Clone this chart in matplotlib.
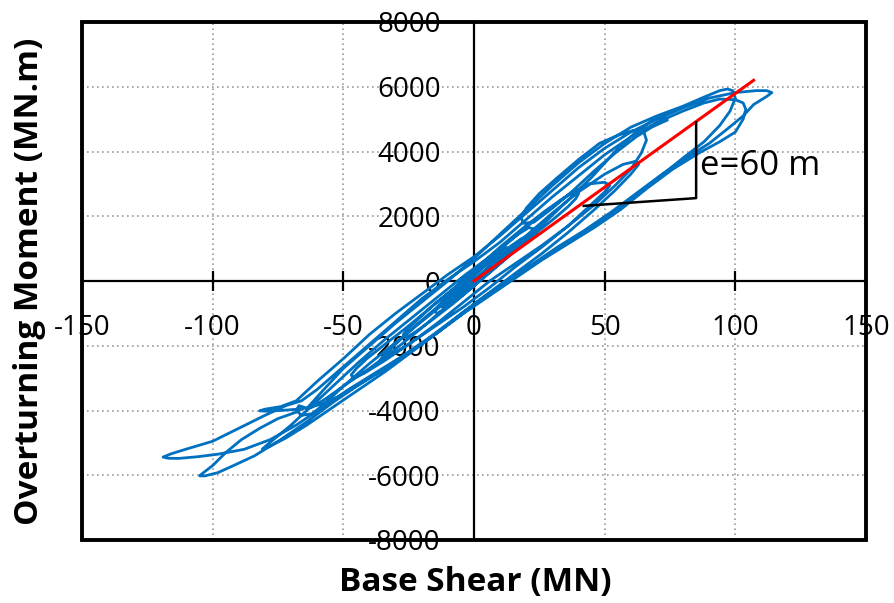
import matplotlib
matplotlib.use('Agg')
import matplotlib.pyplot as plt
from matplotlib.patches import Rectangle

plt.rcParams['font.family'] = ['Open Sans', 'DejaVu Sans']
plt.rcParams['axes.unicode_minus'] = False

# hysteresis record, base shear (MN) vs overturning moment (MN.m)
base_shear = [
    0, 4, 8, 11, 13, 12, 9, 5, 0, -5, -10, -14, -15, -14, -11,
    -6, 0, 6, 12, 18, 22, 23, 21, 17, 11, 5, -1, -8, -15, -21, -25, -27, -26, -22,
    -16, -8, 0, 8, 16, 24, 31, 36, 39, 40, 38, 34, 27, 19, 10, 1, -8, -17, -26, -34, -41, -45, -47, -46, -42,
    -34, -24, -14, -4, 6, 16, 26, 36, 46, 54, 60, 64, 66, 65, 61,
    55, 48, 40, 32, 25, 20, 18, 19, 23,
    30, 38, 46, 54, 62, 68, 72, 74, 73, 69,
    62, 54, 45, 36, 27, 18, 9, 0, -10, -20, -30, -40, -50, -57, -62, -64, -63,
    -58, -50, -40, -30, -20, -10, 0, 10, 20, 30, 40, 50, 60, 70, 80, 88, 94, 97, 99,
    100, 98, 94, 88, 80, 70, 60, 50, 40, 30, 20, 10, 0, -10, -20, -30, -40, -50, -58, -66, -74, -80, -82, -80,
    -74, -68, -60, -50, -40, -30, -20, -10, 0, 10, 20, 30, 40, 50, 60, 70, 80, 90, 100, 108, 112, 114, 112,
    107, 103, 97, 90, 82, 72, 62, 52, 42, 32, 22, 12, 2, -8, -18, -28, -38, -48, -58, -68, -78, -88, -98, -106, -113, -117, -119, -116,
    -110, -100, -90, -80, -72, -66, -60, -50, -40, -30, -20, -10, 0, 10, 20, 30, 40, 50, 60, 70, 80, 88, 94, 100, 103, 104,
    103, 100, 94, 86, 76, 66, 56, 46, 36, 26, 16, 6, -4, -14, -24, -34, -44, -54, -64, -74, -84, -92, -98, -103, -105, -104,
    -100, -95, -89, -82, -75, -68, -65, -67, -68, -66, -62, -58, -50, -40, -30, -20, -10, 0, 10, 20, 30, 40, 50, 57, 62, 63,
    60, 54, 46, 36, 26, 16, 6, -4, -14, -24, -34, -44, -54, -64, -72, -78, -81, -80,
    -76, -70, -62, -54, -44, -34, -24, -14, -4, 6, 16, 26, 36, 44, 50, 52, 50,
    44, 36, 26, 16, 6, -4, -14, -24, -32, -36, -35,
    -30, -22, -14, -6, 2, 10, 18, 23, 24, 22,
    16, 8, 0, -6, -11, -12, -10, -5, 0,
]
moment = [
    0, 300, 620, 850, 1000, 1050, 900, 600, 250, -100, -450, -800, -950, -1000, -850,
    -550, -150, 300, 750, 1150, 1450, 1600, 1650, 1450, 1050, 650, 250, -250, -700, -1150, -1450, -1650, -1750, -1550,
    -1200, -700, -150, 400, 950, 1500, 1950, 2300, 2550, 2700, 2750, 2550, 2150, 1650, 1050, 400, -250, -850, -1450, -1950, -2400, -2700, -2900, -3000, -2850,
    -2450, -1900, -1300, -650, 0, 550, 1100, 1700, 2350, 2950, 3450, 3950, 4350, 4600, 4650,
    4500, 4250, 3750, 3200, 2700, 2250, 1950, 1780, 1820,
    2250, 2800, 3400, 3950, 4450, 4750, 4900, 4970, 5050, 5000,
    4600, 4000, 3200, 2500, 1800, 1150, 500, -100, -750, -1450, -2100, -2700, -3250, -3650, -3900, -3950, -3850,
    -3400, -2700, -2000, -1300, -650, 0, 700, 1450, 2200, 2950, 3650, 4250, 4750, 5100, 5400, 5680, 5880, 5930, 5880,
    5650, 5250, 4800, 4300, 3800, 3150, 2500, 1900, 1400, 900, 350, -200, -750, -1350, -1950, -2500, -3000, -3500, -3800, -3950, -4000, -4020, -4010, -3960,
    -3880, -3700, -3100, -2400, -1650, -1000, -400, 200, 750, 1400, 2100, 2800, 3500, 4100, 4600, 5000, 5350, 5650, 5820, 5880, 5880, 5820, 5700,
    5450, 5100, 4700, 4250, 3850, 3300, 2700, 2100, 1550, 1050, 500, -50, -600, -1200, -1800, -2350, -2850, -3350, -3900, -4450, -4900, -5200, -5350, -5430, -5480, -5475, -5440, -5340,
    -5190, -4950, -4550, -4150, -3850, -3700, -3350, -2650, -1950, -1250, -550, 50, 600, 1200, 1900, 2600, 3250, 3900, 4450, 4900, 5250, 5500, 5620, 5600, 5500, 5300,
    5000, 4600, 4300, 3950, 3450, 2850, 2200, 1650, 1150, 650, 100, -450, -1000, -1600, -2150, -2700, -3200, -3750, -4350, -4900, -5400, -5700, -5920, -6020, -6020, -5950,
    -5700, -5300, -4900, -4550, -4250, -4050, -3900, -3850, -4000, -4150, -4100, -3850, -3250, -2550, -1900, -1250, -600, 50, 700, 1400, 2100, 2750, 3300, 3600, 3700, 3600,
    3300, 2800, 2200, 1500, 850, 250, -350, -950, -1600, -2200, -2800, -3350, -3900, -4450, -4850, -5100, -5200, -5120,
    -4850, -4450, -3850, -3250, -2500, -1800, -1150, -500, 150, 750, 1400, 2050, 2650, 3000, 3050, 2950, 2750,
    2300, 1700, 1050, 450, -200, -800, -1350, -1900, -2300, -2450, -2350,
    -1950, -1350, -800, -250, 300, 850, 1300, 1500, 1500, 1350,
    950, 400, -150, -500, -780, -820, -700, -350, 0,
]

# eccentricity line and slope triangle
fit_shear = [0, 107]
fit_moment = [0, 6200]
tri_shear = [42, 85, 85]
tri_moment = [2320, 2560, 4900]

x_ticks = [-150, -100, -50, 0, 50, 100, 150]
y_ticks = [-8000, -6000, -4000, -2000, 0, 2000, 4000, 6000, 8000]

fig = plt.figure(figsize=(8.95, 6.03), dpi=100)
ax = fig.add_axes([82 / 895, 63 / 603, 784 / 895, 518 / 603])

ax.plot(base_shear, moment, color='#0070C0', lw=2.0, solid_joinstyle='round', zorder=3)
ax.plot(fit_shear, fit_moment, color='#FF0000', lw=2.2, zorder=4)
ax.plot(tri_shear, tri_moment, color='black', lw=1.8, zorder=4)
ax.text(86.5, 3550, 'e=60 m', fontsize=25, ha='left', va='center', zorder=5)

ax.set_xlim(-150, 150)
ax.set_ylim(-8000, 8000)
ax.set_xticks(x_ticks)
ax.set_yticks(y_ticks)
ax.grid(True, linestyle=(0, (1, 2)), color='#9a9a9a', lw=1.2)

ax.spines['left'].set_position(('data', 0))
ax.spines['bottom'].set_position(('data', 0))
ax.spines['top'].set_visible(False)
ax.spines['right'].set_visible(False)
ax.spines['left'].set_linewidth(1.6)
ax.spines['bottom'].set_linewidth(1.6)

ax.tick_params(axis='x', direction='inout', length=14, width=1.6, labelsize=20, pad=17)
ax.tick_params(axis='y', length=0, labelsize=20, pad=24)

frame = Rectangle((0, 0), 1, 1, transform=ax.transAxes, fill=False, lw=2.8,
                  edgecolor='black', clip_on=False, zorder=6)
ax.add_patch(frame)

fig.text(475 / 895, 1 - 583 / 603, 'Base Shear (MN)', fontsize=24, fontweight='bold',
         ha='center', va='center')
fig.text(30 / 895, 1 - 281 / 603, 'Overturning Moment (MN.m)', fontsize=24, fontweight='bold',
         ha='center', va='center', rotation=90)

fig.savefig('out.png', dpi=100)
